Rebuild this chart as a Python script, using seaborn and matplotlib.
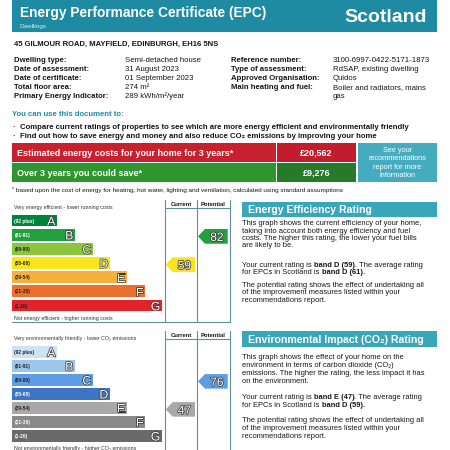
import numpy as np
import pandas as pd
import matplotlib
matplotlib.use('Agg')
import matplotlib.pyplot as plt
import seaborn as sns
from matplotlib.patches import Rectangle, Polygon
import matplotlib.patheffects as pe

sns.set_theme(style='white')
plt.rcParams['font.family'] = ['Liberation Sans', 'DejaVu Sans']

# ---------------- data ----------------
bands = ['A', 'B', 'C', 'D', 'E', 'F', 'G']
band_ranges = ['(92 plus)', '(81-91)', '(69-80)', '(55-68)', '(39-54)', '(21-38)', '(1-20)']
band_lower = [92, 81, 69, 55, 39, 21, 1]
band_bar_len = [45, 63, 81, 98, 115, 133, 150]
eff_colors = ['#00843d', '#22a03f', '#8cc43c', '#f8e51c', '#f6b03c', '#ec6f2d', '#e2232a']
env_colors = ['#cde3f5', '#9cc6ec', '#5c9de6', '#3c75c4', '#a8a8a8', '#8a8a8a', '#6a6a6a']
eff_range_tc = ['white', 'white', '#222', '#222', '#222', '#222', '#222']
env_range_tc = ['#222', '#222', '#222', 'white', '#222', 'white', 'white']
eff_current, eff_potential = 59, 82
env_current, env_potential = 47, 76
avg_eff_band, avg_eff = 'D', 61
avg_env_band, avg_env = 'D', 59
cost_3yr = '£20,562'
save_3yr = '£9,276'
address = '45 GILMOUR ROAD, MAYFIELD, EDINBURGH, EH16 5NS'
left_labels = ['Dwelling type:', 'Date of assessment:', 'Date of certificate:',
               'Total floor area:', 'Primary Energy Indicator:']
left_values = ['Semi-detached house', '31 August 2023', '01 September 2023',
               '274 m²', '289 kWh/m²/year']
right_labels = ['Reference number:', 'Type of assessment:', 'Approved Organisation:',
                'Main heating and fuel:']
right_values = ['3100-6997-0422-5171-1873', 'RdSAP, existing dwelling', 'Quidos',
                'Boiler and radiators, mains', 'gas']


def band_of(v):
    for i, lo in enumerate(band_lower):
        if v >= lo:
            return i
    return len(bands) - 1


# ---------------- figure ----------------
W = H = 450
fig = plt.figure(figsize=(4.5, 4.5), dpi=100)
fig.patch.set_facecolor('white')
ax = fig.add_axes([0, 0, 1, 1])
ax.set_xlim(0, W)
ax.set_ylim(H, 0)
ax.axis('off')

TEAL = '#1f8ba3'
TEAL2 = '#3aa6b9'
DARK = '#161616'
VA = 'center_baseline'
PX = 100 / 72.0


def T(x, y, s, size, weight='normal', color=DARK, ha='left', **kw):
    # y is the visual middle of capital letters; anchor on the baseline
    yb = y + 0.358 * size * PX
    return ax.text(x, yb, s, fontsize=size, fontweight=weight, color=color,
                   ha=ha, va='baseline', **kw)


renderer = fig.canvas.get_renderer()


def text_w(s, size, weight):
    t1 = ax.text(0, 0, s + '|', fontsize=size, fontweight=weight)
    t2 = ax.text(0, 0, '|', fontsize=size, fontweight=weight)
    w = t1.get_window_extent(renderer).width - t2.get_window_extent(renderer).width
    t1.remove(); t2.remove()
    return w


def rich(x, y, segs, size, color=DARK):
    for s, wt in segs:
        T(x, y, s, size, weight=wt, color=color)
        x += text_w(s, size, wt)


# header bar
ax.add_patch(Rectangle((12, 0), 425, 32, fc=TEAL, ec='none'))
T(20, 12, 'Energy Performance Certificate (EPC)', 9.9, 'bold', 'white')
T(20, 26, 'Dwellings', 4.6, color='#d8eef3')
T(427, 15.5, 'Scotland', 14, 'bold', 'white', ha='right')

T(14, 43, address, 5.5, 'bold')

ys = [59, 68, 77, 86, 95]
for y, l, v in zip(ys, left_labels, left_values):
    T(14, y, l, 5.6, 'bold')
    T(125, y, v, 5.6)
for y, l in zip(ys, right_labels):
    T(231, y, l, 5.6, 'bold')
for y, v in zip(ys + [103.5], right_values):
    T(333, y, v, 5.6)

T(12, 113, 'You can use this document to:', 5.6, 'bold', TEAL)
T(12, 126, '·', 6, 'bold')
T(20, 126, 'Compare current ratings of properties to see which are more energy efficient and environmentally friendly', 5.55, 'bold')
T(12, 135, '·', 6, 'bold')
T(20, 135, 'Find out how to save energy and money and also reduce CO₂ emissions by improving your home', 5.55, 'bold')

# cost boxes
ax.add_patch(Rectangle((12, 143), 264, 19, fc='#c7202f', ec='none'))
ax.add_patch(Rectangle((277, 143), 79, 19, fc='#c21d2d', ec='none'))
ax.add_patch(Rectangle((12, 163), 264, 19, fc='#2f952f', ec='none'))
ax.add_patch(Rectangle((277, 163), 79, 19, fc='#267a2a', ec='none'))
ax.add_patch(Rectangle((358, 143), 79, 39, fc='#45acc0', ec='none'))
T(17, 152.5, 'Estimated energy costs for your home for 3 years*', 6.5, 'bold', 'white')
T(17, 172.5, 'Over 3 years you could save*', 6.5, 'bold', 'white')
T(316.5, 152.5, cost_3yr, 6.5, 'bold', 'white', ha='center')
T(316.5, 172.5, save_3yr, 6.5, 'bold', 'white', ha='center')
for y, s in zip([149, 157.5, 166, 174], ['See your', 'recommendations', 'report for more', 'information']):
    T(397.5, y, s, 5.3, color='white', ha='center')
T(12, 188.5, '*', 3.8)
T(16, 190, 'based upon the cost of energy for heating, hot water, lighting and ventilation, calculated using standard assumptions', 4.6)

# ---------------- rating charts ----------------
LINE = '#5f8f9b'


def fig_rect(x0, y0, x1, y1):
    return [x0 / W, 1 - y1 / H, (x1 - x0) / W, (y1 - y0) / H]


def rating_chart(top_c, pitch, colors, range_tc, cur, pot, hdr_top, hdr_bot, bottom, line_bottom,
                 top_text, bottom_text):
    x_left = 12.3
    x_right = 229.7
    axi = fig.add_axes(fig_rect(x_left, top_c - pitch / 2, x_right, top_c + 6.5 * pitch))
    df = pd.DataFrame({'band': bands, 'len': band_bar_len})
    sns.barplot(data=df, x='len', y='band', hue='band', order=bands, hue_order=bands,
                palette=colors, saturation=1, legend=False, width=0.84, orient='h',
                edgecolor='none', linewidth=0, ax=axi)
    axi.set_xlim(0, x_right - x_left)
    axi.set_ylim(6.5, -0.5)
    axi.axis('off')
    axi.patch.set_alpha(0)
    stroke = [pe.withStroke(linewidth=1.1, foreground='#3a3a3a')]
    for i, b in enumerate(bands):
        axi.text(2, i, band_ranges[i], fontsize=3.5, fontweight='bold', color=range_tc[i],
                 ha='left', va=VA)
        axi.text(band_bar_len[i] - 2, i + 0.02, b, fontsize=8.8, color='white', ha='right',
                 va=VA, path_effects=stroke)

    def arrow(row, x0, x1, color, value):
        h = 0.52
        notch = 7
        yc = row + 0.12
        axi.add_patch(Polygon([(x0, yc), (x0 + notch, yc - h), (x1, yc - h), (x1, yc + h),
                               (x0 + notch, yc + h)], closed=True, fc=color, ec='none'))
        axi.text((x0 + notch + x1) / 2 + 0.5, yc, str(value), fontsize=8.6, color='white',
                 ha='center', va=VA, path_effects=stroke)

    arrow(band_of(cur), 165.7 - x_left, 195 - x_left, colors[band_of(cur)], cur)
    arrow(band_of(pot), 198 - x_left, 227.7 - x_left, colors[band_of(pot)], pot)

    # frame
    for x in [164.5, 197.3, 229.7]:
        ax.plot([x, x], [hdr_top, line_bottom], color=LINE, lw=0.8)
    ax.plot([164.5, 229.7], [hdr_bot, hdr_bot], color=LINE, lw=0.8)
    if bottom is not None:
        ax.plot([12, 229.7], [bottom, bottom], color=LINE, lw=0.8)
    T(180.9, (hdr_top + hdr_bot) / 2, 'Current', 4.2, 'bold', ha='center')
    T(213.5, (hdr_top + hdr_bot) / 2, 'Potential', 4.2, 'bold', ha='center')
    T(14, hdr_bot - 1.5, top_text, 3.8, color='#333')
    T(14, top_c + 6.5 * pitch + 5.5, bottom_text, 3.8, color='#333')


rating_chart(220.5, 14.17, eff_colors, eff_range_tc, eff_current, eff_potential,
             200, 208.3, 322, 322,
             'Very energy efficient - lower running costs',
             'Not energy efficient - higher running costs')
rating_chart(351.7, 14.0, env_colors, env_range_tc, env_current, env_potential,
             331, 339.3, None, 452,
             'Very environmentally friendly - lower CO₂ emissions',
             'Not environmentally friendly - higher CO₂ emissions')

# ---------------- right panels ----------------
BODY = 5.45
ax.add_patch(Rectangle((241.7, 201.5), 195, 15.5, fc=TEAL2, ec='none'))
T(247.5, 209.3, 'Energy Efficiency Rating', 7.6, 'bold', 'white')
for y, s in zip([222.5, 229.8, 237, 244.3],
                ['This graph shows the current efficiency of your home,',
                 'taking into account both energy efficiency and fuel',
                 'costs. The higher this rating, the lower your fuel bills',
                 'are likely to be.']):
    T(242, y, s, BODY)
cb = bands[band_of(eff_current)]
rich(242, 264.3, [('Your current rating is ', 'normal'), (f'band {cb} ({eff_current})', 'bold'),
                  ('. The average rating', 'normal')], BODY)
rich(242, 271.5, [('for EPCs in Scotland is ', 'normal'), (f'band {avg_eff_band} ({avg_eff}).', 'bold')], BODY)
for y, s in zip([284.3, 291.6, 298.8],
                ['The potential rating shows the effect of undertaking all',
                 'of the improvement measures listed within your',
                 'recommendations report.']):
    T(242, y, s, BODY)

ax.add_patch(Rectangle((241.7, 330.7), 195, 16, fc=TEAL2, ec='none'))
T(247.5, 338.8, 'Environmental Impact (CO₂) Rating', 7.6, 'bold', 'white')
for y, s in zip([356, 364, 372.3, 380.6],
                ['This graph shows the effect of your home on the',
                 'environment in terms of carbon dioxide (CO₂)',
                 'emissions. The higher the rating, the less impact it has',
                 'on the environment.']):
    T(242, y, s, BODY)
cb2 = bands[band_of(env_current)]
rich(242, 396.5, [('Your current rating is ', 'normal'), (f'band {cb2} ({env_current})', 'bold'),
                  ('. The average rating', 'normal')], BODY)
rich(242, 404, [('for EPCs in Scotland is ', 'normal'), (f'band {avg_env_band} ({avg_env}).', 'bold')], BODY)
for y, s in zip([419, 427, 435],
                ['The potential rating shows the effect of undertaking all',
                 'of the improvement measures listed within your',
                 'recommendations report.']):
    T(242, y, s, BODY)

fig.savefig('out.png', dpi=100, facecolor='white')
